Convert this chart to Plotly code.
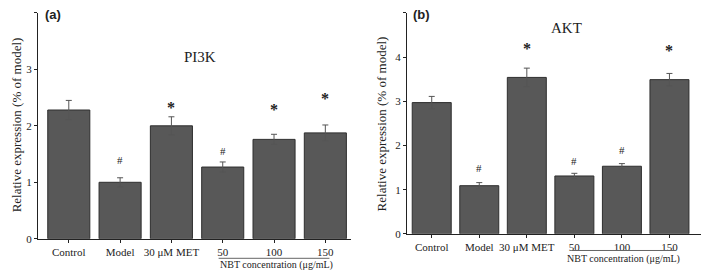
import plotly.graph_objects as go

categories = ["Control", "Model", "30 μM MET", "50", "100", "150"]

pi3k_values = [2.28, 1.00, 2.00, 1.27, 1.76, 1.875]
pi3k_errors = [0.17, 0.08, 0.16, 0.09, 0.09, 0.14]
pi3k_marks = ["", "#", "*", "#", "*", "*"]
pi3k_mark_y = [None, 1.40, 2.33, 1.55, 2.29, 2.49]

akt_values = [2.97, 1.09, 3.54, 1.31, 1.53, 3.49]
akt_errors = [0.14, 0.07, 0.21, 0.06, 0.06, 0.14]
akt_marks = ["", "#", "*", "#", "#", "*"]
akt_mark_y = [None, 1.50, 4.19, 1.64, 1.90, 4.15]

W, H = 709, 270
SERIF = "Liberation Serif"
BAR_FILL = "#585858"
BAR_LINE = "#2e2e2e"

def px_x(p):
    return p / W

def px_y(p):
    return 1 - p / H

xpos = list(range(len(categories)))

fig = go.Figure()

for vals, errs, xa, ya in [(pi3k_values, pi3k_errors, "x", "y"),
                           (akt_values, akt_errors, "x2", "y2")]:
    fig.add_trace(go.Bar(
        x=xpos, y=vals, width=0.82,
        marker=dict(color=BAR_FILL, line=dict(color=BAR_LINE, width=1)),
        error_y=dict(type="data", array=errs, visible=True,
                     color="#555555", thickness=1, width=3),
        xaxis=xa, yaxis=ya, showlegend=False, hoverinfo="skip"))

axis_common = dict(showline=True, linecolor="#222", linewidth=1,
                   ticks="outside", ticklen=3, tickcolor="#222",
                   showgrid=False, zeroline=False,
                   tickfont=dict(family=SERIF, size=11, color="#222"))

fig.update_layout(
    width=W, height=H,
    margin=dict(l=0, r=0, t=0, b=0),
    plot_bgcolor="white", paper_bgcolor="white",
    xaxis=dict(domain=[px_x(30), px_x(343)], range=[-0.6, 5.5],
               tickvals=xpos, ticktext=categories, anchor="y", **axis_common),
    yaxis=dict(domain=[px_y(236), px_y(5)], range=[0, 4], dtick=1,
               anchor="x", **axis_common),
    xaxis2=dict(domain=[px_x(399), px_x(709)], range=[-0.52, 6.0],
                tickvals=xpos, ticktext=categories, anchor="y2", **axis_common),
    yaxis2=dict(domain=[px_y(231), px_y(5)], range=[0, 5], dtick=1,
                anchor="x2", **axis_common),
)

annotations = []
for marks, my, xr, yr in [(pi3k_marks, pi3k_mark_y, "x", "y"),
                          (akt_marks, akt_mark_y, "x2", "y2")]:
    for i, (m, yv) in enumerate(zip(marks, my)):
        if not m:
            continue
        annotations.append(dict(
            x=xpos[i], y=yv, xref=xr, yref=yr,
            text="<b>*</b>" if m == "*" else m, showarrow=False,
            font=dict(family=SERIF, size=16 if m == "*" else 11, color="#222")))

def text(x, y, t, size, family=SERIF, angle=0, bold=False):
    annotations.append(dict(
        x=px_x(x), y=px_y(y), xref="paper", yref="paper",
        text=f"<b>{t}</b>" if bold else t, showarrow=False, textangle=angle,
        font=dict(family=family, size=size, color="#222"),
        xanchor="center", yanchor="middle"))

text(192, 50, "PI3K", 15)
text(558, 20, "AKT", 15)
text(45, 7, "(a)", 13, family="Liberation Sans", bold=True)
text(413, 7, "(b)", 13, family="Liberation Sans", bold=True)
text(8, 120, "Relative expression (% of model)", 13, angle=-90)
text(373, 118, "Relative expression (% of model)", 13, angle=-90)
text(268, 263, "NBT concentration (μg/mL)", 10)
text(615, 257, "NBT concentration (μg/mL)", 10)

fig.update_layout(annotations=annotations)

fig.add_shape(type="line", xref="x", yref="paper", x0=2.92, x1=5.08,
              y0=px_y(256), y1=px_y(256), line=dict(color="#666", width=1))
fig.add_shape(type="line", xref="x2", yref="paper", x0=2.95, x1=5.12,
              y0=px_y(248), y1=px_y(248), line=dict(color="#666", width=1))

fig.write_html("out.html")
